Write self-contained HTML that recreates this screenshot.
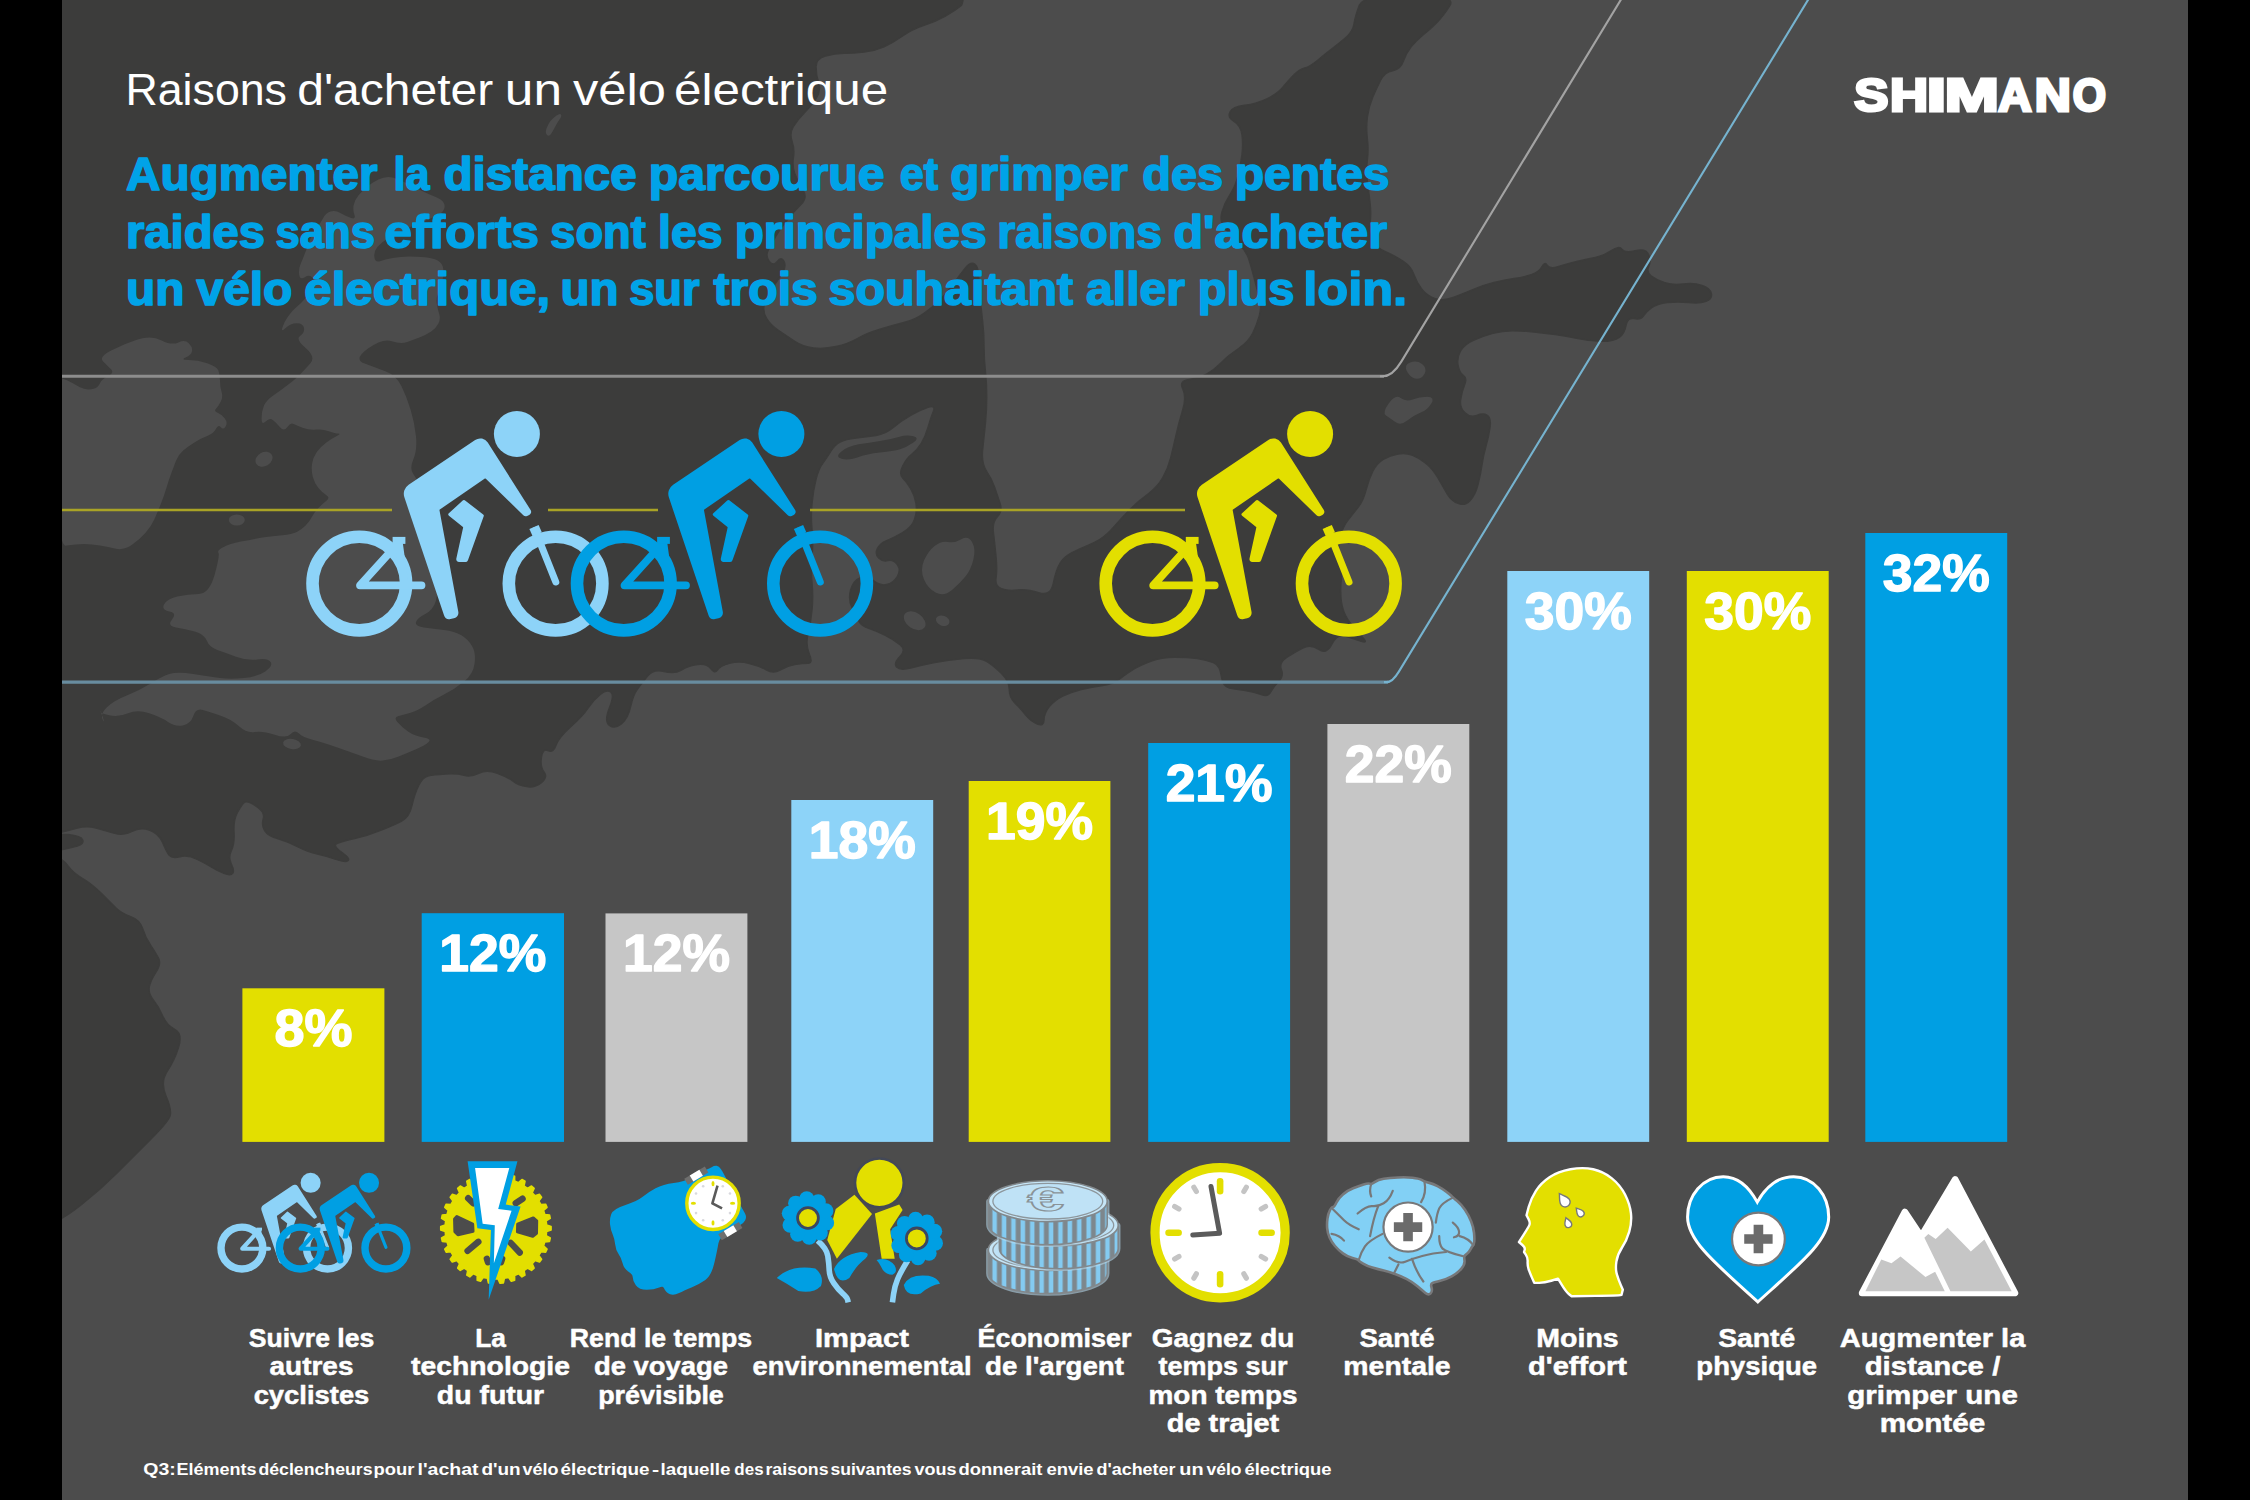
<!DOCTYPE html>
<html lang="fr"><head><meta charset="utf-8"><title>Raisons d'acheter un vélo électrique</title>
<style>html,body{margin:0;padding:0;background:#000;}body{width:2250px;height:1500px;overflow:hidden;}svg{display:block;}text{white-space:pre;}</style></head><body>
<svg width="2250" height="1500" viewBox="0 0 2250 1500">
<defs><clipPath id="panel"><rect x="62" y="0" width="2126" height="1500"/></clipPath></defs>
<rect x="0" y="0" width="2250" height="1500" fill="#000"/>
<rect x="62" y="0" width="2126" height="1500" fill="#4c4c4c"/>
<g clip-path="url(#panel)" stroke-linejoin="round">
<path d="M-400.0,250.0 Q-400,-400 284.0,-400.0 Q968,-400 968.0,-200.0 Q968,0 961.4,5.3 Q954.7,10.7 945.4,16.0 Q936,21.3 924.0,25.3 Q912,29.3 902.6,36.0 Q893.3,42.7 884.0,46.7 Q874.7,50.7 864.0,52.0 Q853.3,53.3 844.0,53.3 Q834.7,53.3 825.4,56.0 Q816,58.7 816.0,66.7 Q816,74.7 818.6,82.7 Q821.3,90.7 816.0,98.7 Q810.7,106.7 804.0,113.3 Q797.3,120 793.3,126.7 Q789.3,133.3 792.0,141.3 Q794.7,149.3 793.4,157.3 Q792,165.3 794.6,173.3 Q797.3,181.3 802.6,189.3 Q808,197.3 801.4,204.0 Q794.7,210.7 788.0,218.7 Q781.3,226.7 776.0,236.0 Q770.7,245.3 768.0,250.7 Q765.3,256 769.3,261.4 Q773.3,266.7 777.3,261.4 Q781.3,256 784.0,261.4 Q786.7,266.7 781.4,274.7 Q776,282.7 770.6,290.7 Q765.3,298.7 764.0,305.4 Q762.7,312 766.7,318.6 Q770.7,325.3 778.7,330.6 Q786.7,336 794.7,341.4 Q802.7,346.7 813.4,348.0 Q824,349.3 836.0,346.6 Q848,344 857.4,338.6 Q866.7,333.3 880.0,329.3 Q893.3,325.3 904.0,322.6 Q914.7,320 924.0,313.4 Q933.3,306.7 940.0,300.0 Q946.7,293.3 953.4,284.0 Q960,274.7 965.4,268.0 Q970.7,261.3 974.7,264.0 Q978.7,266.7 978.7,277.4 Q978.7,288 980.0,298.6 Q981.3,309.3 982.6,321.3 Q984,333.3 984.0,346.6 Q984,360 985.4,371.6 Q986.7,383.3 986.7,396.6 Q986.7,410 985.4,423.4 Q984,436.7 982.6,450.0 Q981.3,463.3 986.6,471.3 Q992,479.3 994.6,487.3 Q997.3,495.3 1000.0,503.3 Q1002.7,511.3 997.4,516.6 Q992,522 993.4,532.6 Q994.7,543.3 996.0,556.6 Q997.3,570 996.0,578.0 Q994.7,586 1001.4,588.6 Q1008,591.3 1017.4,590.0 Q1026.7,588.7 1038.7,592.7 Q1050.7,596.7 1053.3,583.4 Q1056,570 1060.0,563.4 Q1064,556.7 1072.0,552.7 Q1080,548.7 1086.7,546.0 Q1093.3,543.3 1100.0,539.3 Q1106.7,535.3 1114.7,526.0 Q1122.7,516.7 1130.7,508.7 Q1138.7,500.7 1148.0,494.0 Q1157.3,487.3 1162.7,478.0 Q1168,468.7 1170.7,458.0 Q1173.3,447.3 1176.0,435.3 Q1178.7,423.3 1182.7,410.0 Q1186.7,396.7 1182.7,388.7 Q1178.7,380.7 1189.3,379.4 Q1200,378 1207.0,374.0 Q1214,370 1219.3,364.6 Q1224.7,359.3 1227.3,357.0 Q1230,354.7 1239.3,348.0 Q1248.7,341.3 1252.7,333.3 Q1256.7,325.3 1259.3,316.0 Q1262,306.7 1259.3,297.4 Q1256.7,288 1254.0,277.4 Q1251.3,266.7 1248.7,258.7 Q1246,250.7 1238.0,242.7 Q1230,234.7 1224.7,228.0 Q1219.3,221.3 1222.0,212.0 Q1224.7,202.7 1230.0,194.7 Q1235.3,186.7 1238.0,176.0 Q1240.7,165.3 1242.0,154.7 Q1243.3,144 1242.0,134.7 Q1240.7,125.3 1234.0,121.3 Q1227.3,117.3 1230.0,112.0 Q1232.7,106.7 1244.7,105.3 Q1256.7,104 1267.3,98.7 Q1278,93.3 1283.3,86.7 Q1288.7,80 1294.0,74.7 Q1299.3,69.3 1304.7,68.0 Q1310,66.7 1318.0,60.0 Q1326,53.3 1331.3,49.3 Q1336.7,45.3 1344.7,38.6 Q1352.7,32 1354.0,24.0 Q1355.3,16 1359.3,5.3 Q1363.3,-5.3 1410.0,-5.3 Q1456.7,-5.3 1450.0,5.3 Q1443.3,16 1436.7,22.6 Q1430,29.3 1423.3,34.6 Q1416.7,40 1411.3,46.6 Q1406,53.3 1403.3,61.3 Q1400.7,69.3 1392.7,70.7 Q1384.7,72 1380.7,80.0 Q1376.7,88 1372.7,97.3 Q1368.7,106.7 1367.3,117.3 Q1366,128 1367.3,138.7 Q1368.7,149.3 1367.3,160.0 Q1366,170.7 1367.3,181.3 Q1368.7,192 1370.0,202.7 Q1371.3,213.3 1370.0,224.0 Q1368.7,234.7 1372.7,241.3 Q1376.7,248 1386.0,252.0 Q1395.3,256 1403.3,261.4 Q1411.3,266.7 1414.0,274.7 Q1416.7,282.7 1422.0,289.4 Q1427.3,296 1435.3,298.6 Q1443.3,301.3 1454.0,297.3 Q1464.7,293.3 1474.0,289.3 Q1483.3,285.3 1494.0,282.6 Q1504.7,280 1514.0,278.6 Q1523.3,277.3 1531.3,274.6 Q1539.3,272 1542.0,266.6 Q1544.7,261.3 1547.3,265.3 Q1550,269.3 1558.0,266.6 Q1566,264 1576.7,261.4 Q1587.3,258.7 1595.3,257.4 Q1603.3,256 1611.3,250.7 Q1619.3,245.3 1622.0,249.3 Q1624.7,253.3 1635.3,250.7 Q1646,248 1648.7,254.7 Q1651.3,261.3 1648.7,266.6 Q1646,272 1651.3,276.0 Q1656.7,280 1664.7,282.6 Q1672.7,285.3 1683.3,284.0 Q1694,282.7 1702.0,285.4 Q1710,288 1711.3,293.4 Q1712.7,298.7 1706.0,301.4 Q1699.3,304 1688.7,302.6 Q1678,301.3 1667.3,302.6 Q1656.7,304 1651.3,308.0 Q1646,312 1643.3,316.0 Q1640.7,320 1634.0,318.6 Q1627.3,317.3 1626.0,325.3 Q1624.7,333.3 1619.3,337.3 Q1614,341.3 1602.0,341.3 Q1590,341.3 1578.0,338.6 Q1566,336 1555.3,334.6 Q1544.7,333.3 1534.0,332.0 Q1523.3,330.7 1512.7,330.7 Q1502,330.7 1492.7,333.4 Q1483.3,336 1474.0,340.0 Q1464.7,344 1460.7,350.6 Q1456.7,357.3 1458.0,365.0 Q1459.3,372.7 1463.3,375.4 Q1467.3,378 1464.7,384.6 Q1462,391.3 1460.7,399.3 Q1459.3,407.3 1464.7,412.6 Q1470,418 1476.7,415.4 Q1483.3,412.7 1487.3,415.4 Q1491.3,418 1490.0,427.4 Q1488.7,436.7 1486.0,446.0 Q1483.3,455.3 1482.0,464.6 Q1480.7,474 1478.0,484.6 Q1475.3,495.3 1470.0,500.6 Q1464.7,506 1458.0,503.4 Q1451.3,500.7 1447.3,494.0 Q1443.3,487.3 1438.0,478.0 Q1432.7,468.7 1426.0,463.4 Q1419.3,458 1412.7,455.4 Q1406,452.7 1398.0,454.0 Q1390,455.3 1383.3,459.3 Q1376.7,463.3 1372.7,471.3 Q1368.7,479.3 1366.0,490.0 Q1363.3,500.7 1358.3,507.0 Q1353.3,513.3 1348.0,520.0 Q1342.7,526.7 1340.0,537.4 Q1337.3,548 1340.0,557.4 Q1342.7,566.7 1341.3,578.7 Q1340,590.7 1341.3,601.4 Q1342.7,612 1348.0,620.0 Q1353.3,628 1361.3,636.0 Q1369.3,644 1361.3,641.4 Q1353.3,638.7 1345.3,636.0 Q1337.3,633.3 1332.0,644.0 Q1326.7,654.7 1318.7,649.4 Q1310.7,644 1302.7,648.0 Q1294.7,652 1286.7,657.4 Q1278.7,662.7 1281.3,669.4 Q1284,676 1278.7,681.4 Q1273.3,686.7 1270.7,692.0 Q1268,697.3 1261.3,694.6 Q1254.7,692 1245.3,690.6 Q1236,689.3 1229.3,688.0 Q1222.7,686.7 1221.3,676.0 Q1220,665.3 1213.3,662.6 Q1206.7,660 1197.3,658.6 Q1188,657.3 1174.7,657.3 Q1161.3,657.3 1150.7,661.3 Q1140,665.3 1133.3,669.3 Q1126.7,673.3 1120.0,678.6 Q1113.3,684 1102.7,685.4 Q1092,686.7 1081.3,689.4 Q1070.7,692 1062.7,696.0 Q1054.7,700 1049.3,706.6 Q1044,713.3 1044.0,720.0 Q1044,726.7 1037.3,724.0 Q1030.7,721.3 1025.3,714.6 Q1020,708 1014.6,702.6 Q1009.3,697.3 1009.3,689.3 Q1009.3,681.3 1001.3,673.3 Q993.3,665.3 986.6,661.3 Q980,657.3 964.0,658.6 Q948,660 934.6,662.6 Q921.3,665.3 910.6,668.0 Q900,670.7 896.6,667.0 Q893.3,663.3 900.0,656.6 Q906.7,650 900.0,644.6 Q893.3,639.3 885.3,635.3 Q877.3,631.3 869.3,628.6 Q861.3,626 858.6,620.6 Q856,615.3 852.0,607.3 Q848,599.3 850.6,590.0 Q853.3,580.7 860.0,578.0 Q866.7,575.3 873.4,580.6 Q880,586 886.6,584.6 Q893.3,583.3 897.3,576.6 Q901.3,570 897.3,564.6 Q893.3,559.3 888.0,560.6 Q882.7,562 878.7,558.0 Q874.7,554 877.4,548.6 Q880,543.3 886.6,540.6 Q893.3,538 902.6,532.6 Q912,527.3 914.6,519.3 Q917.3,511.3 916.0,503.3 Q914.7,495.3 910.7,488.6 Q906.7,482 902.7,478.0 Q898.7,474 902.7,466.0 Q906.7,458 912.0,454.0 Q917.3,450 921.3,443.4 Q925.3,436.7 928.0,427.4 Q930.7,418 933.4,411.4 Q936,404.7 928.0,407.4 Q920,410 910.6,415.4 Q901.3,420.7 893.3,427.4 Q885.3,434 876.0,435.4 Q866.7,436.7 856.0,438.0 Q845.3,439.3 840.0,442.0 Q834.7,444.7 830.7,451.4 Q826.7,458 822.7,463.4 Q818.7,468.7 816.0,479.4 Q813.3,490 812.0,503.4 Q810.7,516.7 812.0,530.0 Q813.3,543.3 812.0,556.6 Q810.7,570 812.0,583.4 Q813.3,596.7 812.0,610.0 Q810.7,623.3 808.0,634.0 Q805.3,644.7 809.3,654.0 Q813.3,663.3 808.0,663.3 Q802.7,663.3 794.7,664.6 Q786.7,666 780.0,670.0 Q773.3,674 766.6,670.0 Q760,666 749.4,663.4 Q738.7,660.7 729.4,663.4 Q720,666 717.4,670.0 Q714.7,674 710.7,668.6 Q706.7,663.3 697.4,664.6 Q688,666 681.4,670.0 Q674.7,674 664.0,671.4 Q653.3,668.7 647.3,676.4 Q641.3,684 637.3,689.4 Q633.3,694.7 630.6,706.7 Q628,718.7 621.4,724.0 Q614.7,729.3 609.4,725.3 Q604,721.3 609.4,708.0 Q614.7,694.7 610.7,692.0 Q606.7,689.3 600.0,694.6 Q593.3,700 588.0,708.0 Q582.7,716 570.7,726.6 Q558.7,737.3 556.0,745.3 Q553.3,753.3 548.0,750.6 Q542.7,748 541.4,757.4 Q540,766.7 544.0,772.0 Q548,777.3 541.4,782.6 Q534.7,788 526.7,786.6 Q518.7,785.3 513.4,781.3 Q508,777.3 497.4,773.3 Q486.7,769.3 478.7,773.3 Q470.7,777.3 464.0,775.3 Q457.3,773.3 445.3,774.0 Q433.3,774.7 428.0,776.0 Q422.7,777.3 418.7,785.3 Q414.7,793.3 412.0,805.3 Q409.3,817.3 401.3,821.3 Q393.3,825.3 380.0,830.6 Q366.7,836 354.7,838.6 Q342.7,841.3 337.4,843.3 Q332,845.3 341.4,852.0 Q350.7,858.7 348.0,860.7 Q345.3,862.7 336.0,859.4 Q326.7,856 317.4,854.0 Q308,852 297.4,846.6 Q286.7,841.3 277.4,838.6 Q268,836 264.6,830.6 Q261.3,825.3 263.3,818.6 Q265.3,812 256.0,806.0 Q246.7,800 244.0,802.6 Q241.3,805.3 237.3,812.6 Q233.3,820 234.0,832.0 Q234.7,844 231.3,850.6 Q228,857.3 231.3,864.0 Q234.7,870.7 232.7,873.4 Q230.7,876 224.0,873.4 Q217.3,870.7 212.0,867.4 Q206.7,864 197.3,859.4 Q188,854.7 180.0,856.7 Q172,858.7 169.3,855.4 Q166.7,852 162.7,842.6 Q158.7,833.3 149.3,830.0 Q140,826.7 132.0,831.4 Q124,836 114.7,833.4 Q105.3,830.7 96.0,828.0 Q86.7,825.3 77.3,828.0 Q68,830.7 61.4,832.0 Q54.7,833.3 -172.7,866.6 Q-400,900 -400.0,250.0Z" fill="#3c3c3b" stroke="#3c3c3b" stroke-width="1.5"/>
<path d="M68.0,834.6 Q81.3,836 82.7,840.0 Q84,844 77.3,846.0 Q70.7,848 62.7,849.4 Q54.7,850.7 54.7,842.0 Q54.7,833.3 68.0,834.6Z" fill="#3c3c3b" stroke="#3c3c3b" stroke-width="1.5"/>
<path d="M58.7,858.7 Q62.7,858.7 68.0,866.0 Q73.3,873.3 82.7,878.6 Q92,884 101.3,893.4 Q110.7,902.7 116.0,908.0 Q121.3,913.3 130.7,916.6 Q140,920 142.7,928.6 Q145.3,937.3 150.7,945.3 Q156,953.3 158.7,958.6 Q161.3,964 156.0,972.0 Q150.7,980 149.3,986.6 Q148,993.3 153.3,1000.0 Q158.7,1006.7 162.7,1016.0 Q166.7,1025.3 174.7,1029.3 Q182.7,1033.3 178.7,1046.7 Q174.7,1060 167.3,1071.0 Q160,1082 166.0,1096.0 Q172,1110 170.0,1116.0 Q168,1122 150.0,1140.0 Q132,1158 116.0,1174.0 Q100,1190 81.0,1205.0 Q62,1220 56.0,1220.0 Q50,1220 52.4,1039.3 Q54.7,858.7 58.7,858.7Z" fill="#3c3c3b" stroke="#3c3c3b" stroke-width="1.5"/>
<path d="M61.6,378.4 Q66.4,379.2 72.8,383.2 Q79.2,387.2 84.0,388.8 Q88.8,390.4 93.6,388.8 Q98.4,387.2 100.0,383.2 Q101.6,379.2 108.0,376.0 Q114.4,372.8 111.2,369.6 Q108,366.4 103.2,361.6 Q98.4,356.8 111.2,350.4 Q124,344 137.6,339.6 Q151.2,335.2 161.6,340.4 Q172,345.6 178.4,342.4 Q184.8,339.2 188.8,343.2 Q192.8,347.2 192.0,351.2 Q191.2,355.2 185.6,357.6 Q180,360 188.8,360.0 Q197.6,360 207.2,363.2 Q216.8,366.4 218.4,370.4 Q220,374.4 220.0,380.8 Q220,387.2 221.6,392.0 Q223.2,396.8 220.8,401.6 Q218.4,406.4 216.0,408.8 Q213.6,411.2 217.6,412.8 Q221.6,414.4 224.8,418.4 Q228,422.4 225.6,426.4 Q223.2,430.4 220.8,427.2 Q218.4,424 216.0,428.8 Q213.6,433.6 207.2,436.0 Q200.8,438.4 194.4,442.4 Q188,446.4 183.2,450.4 Q178.4,454.4 176.0,460.8 Q173.6,467.2 171.2,473.6 Q168.8,480 166.4,488.0 Q164,496 160.8,504.0 Q157.6,512 154.4,519.2 Q151.2,526.4 145.6,532.8 Q140,539.2 132.0,544.8 Q124,550.4 116.0,548.8 Q108,547.2 100.0,545.6 Q92,544 84.0,544.0 Q76,544 66.4,545.6 Q56.8,547.2 56.8,462.4 Q56.8,377.6 61.6,378.4Z" fill="#4c4c4c"/>
<path d="M390.4,177.2 Q396,178 404.0,182.0 Q412,186 420.0,190.0 Q428,194 434.4,196.4 Q440.8,198.8 443.2,202.0 Q445.6,205.2 444.0,209.2 Q442.4,213.2 435.2,216.4 Q428,219.6 420.0,222.8 Q412,226 404.0,230.0 Q396,234 388.8,238.0 Q381.6,242 377.6,246.8 Q373.6,251.6 374.4,257.2 Q375.2,262.8 380.0,261.2 Q384.8,259.6 392.8,258.0 Q400.8,256.4 408.8,256.4 Q416.8,256.4 424.8,257.2 Q432.8,258 437.6,260.4 Q442.4,262.8 443.2,268.4 Q444,274 442.4,280.4 Q440.8,286.8 438.4,292.4 Q436,298 436.8,303.6 Q437.6,309.2 439.2,314.0 Q440.8,318.8 438.4,323.6 Q436,328.4 431.2,331.6 Q426.4,334.8 420.0,337.2 Q413.6,339.6 407.2,342.0 Q400.8,344.4 391.8,341.2 Q382.7,338 368.0,348.6 Q353.3,359.3 364.0,363.3 Q374.7,367.3 385.4,371.3 Q396,375.3 401.4,386.0 Q406.7,396.7 410.7,410.0 Q414.7,423.3 416.0,436.6 Q417.3,450 413.3,459.4 Q409.3,468.7 413.3,474.0 Q417.3,479.3 421.3,491.3 Q425.3,503.3 428.0,518.0 Q430.7,532.7 433.4,548.7 Q436,564.7 437.4,578.0 Q438.7,591.3 436.0,600.6 Q433.3,610 425.3,614.0 Q417.3,618 416.0,622.0 Q414.7,626 424.0,627.4 Q433.3,628.7 444.0,630.0 Q454.7,631.3 461.4,635.3 Q468,639.3 472.0,646.0 Q476,652.7 474.6,663.4 Q473.3,674 464.0,681.6 Q454.7,689.3 444.0,694.6 Q433.3,700 425.3,705.4 Q417.3,710.7 410.6,712.7 Q404,714.7 398.6,716.0 Q393.3,717.3 397.3,722.0 Q401.3,726.7 408.0,731.4 Q414.7,736 423.4,737.4 Q432,738.7 428.6,742.0 Q425.3,745.3 416.0,749.3 Q406.7,753.3 398.7,756.6 Q390.7,760 382.7,760.6 Q374.7,761.3 362.7,756.6 Q350.7,752 337.4,747.4 Q324,742.7 313.4,740.0 Q302.7,737.3 298.7,733.3 Q294.7,729.3 290.7,734.0 Q286.7,738.7 274.7,734.7 Q262.7,730.7 254.7,732.0 Q246.7,733.3 238.7,726.0 Q230.7,718.7 220.0,715.4 Q209.3,712 202.7,710.0 Q196,708 193.3,716.0 Q190.7,724 182.7,725.4 Q174.7,726.7 168.0,722.0 Q161.3,717.3 149.3,713.3 Q137.3,709.3 128.0,713.3 Q118.7,717.3 109.3,715.3 Q100,713.3 100.0,711.3 Q100,709.3 102.7,717.0 Q105.3,724.7 102.7,719.4 Q100,714 106.7,707.4 Q113.3,700.7 126.7,695.4 Q140,690 150.7,683.4 Q161.3,676.7 169.3,674.0 Q177.3,671.3 193.3,674.0 Q209.3,676.7 220.0,678.0 Q230.7,679.3 244.0,678.0 Q257.3,676.7 265.3,671.4 Q273.3,666 270.6,662.0 Q268,658 257.4,659.4 Q246.7,660.7 236.0,656.7 Q225.3,652.7 217.3,650.0 Q209.3,647.3 206.7,640.6 Q204,634 194.7,631.4 Q185.3,628.7 176.0,627.4 Q166.7,626 172.0,619.4 Q177.3,612.7 169.3,611.4 Q161.3,610 164.0,604.6 Q166.7,599.3 177.3,596.6 Q188,594 198.7,594.0 Q209.3,594 214.7,574.6 Q220,555.2 218.4,552.8 Q216.8,550.4 223.2,547.2 Q229.6,544 240.8,541.6 Q252,539.2 262.4,537.6 Q272.8,536 282.4,535.2 Q292,534.4 296.8,532.0 Q301.6,529.6 305.6,525.6 Q309.6,521.6 312.0,516.8 Q314.4,512 318.4,508.0 Q322.4,504 326.4,500.8 Q330.4,497.6 326.4,495.2 Q322.4,492.8 318.4,488.0 Q314.4,483.2 312.8,476.8 Q311.2,470.4 312.0,464.0 Q312.8,457.6 316.8,452.0 Q320.8,446.4 326.4,442.4 Q332,438.4 336.8,436.0 Q341.6,433.6 338.4,433.6 Q335.2,433.6 328.8,431.2 Q322.4,428.8 316.0,429.6 Q309.6,430.4 303.2,428.0 Q296.8,425.6 293.6,424.0 Q290.4,422.4 287.2,427.2 Q284,432 280.0,427.2 Q276,422.4 272.8,420.0 Q269.6,417.6 265.6,421.6 Q261.6,425.6 261.6,418.4 Q261.6,411.2 264.0,405.6 Q266.4,400 273.6,395.2 Q280.8,390.4 288.0,384.8 Q295.2,379.2 300.0,374.4 Q304.8,369.6 310.4,363.2 Q316,356.8 305.6,348.0 Q295.2,339.2 300.0,336.0 Q304.8,332.8 304.0,328.0 Q303.2,323.2 296.8,323.2 Q290.4,323.2 285.6,328.0 Q280.8,332.8 282.4,327.4 Q284,322 288.0,316.4 Q292,310.8 296.8,306.8 Q301.6,302.8 305.6,298.0 Q309.6,293.2 312.8,287.6 Q316,282 312.8,278.0 Q309.6,274 304.8,277.2 Q300,280.4 299.2,274.8 Q298.4,269.2 300.8,263.6 Q303.2,258 305.6,251.6 Q308,245.2 310.4,238.8 Q312.8,232.4 316.8,227.6 Q320.8,222.8 323.2,218.0 Q325.6,213.2 330.4,211.6 Q335.2,210 340.8,213.2 Q346.4,216.4 351.2,218.0 Q356,219.6 354.4,214.8 Q352.8,210 353.6,205.2 Q354.4,200.4 358.4,195.6 Q362.4,190.8 367.2,186.8 Q372,182.8 378.4,179.6 Q384.8,176.4 390.4,177.2Z" fill="#4c4c4c"/>
<ellipse cx="264.0" cy="459.2" rx="9" ry="7" transform="rotate(-30 264.0 459.2)" fill="#4c4c4c"/>
<ellipse cx="236.8" cy="520.0" rx="8" ry="5.5" transform="rotate(0 236.8 520.0)" fill="#4c4c4c"/>
<ellipse cx="292.0" cy="744.0" rx="9" ry="5" transform="rotate(10 292.0 744.0)" fill="#4c4c4c"/>
<path d="M546.5,128.5 Q548,124 550.5,121.0 Q553,118 556.5,115.5 Q560,113 561.0,114.5 Q562,116 559.5,119.5 Q557,123 555.0,127.0 Q553,131 551.0,134.0 Q549,137 547.0,135.0 Q545,133 546.5,128.5Z" fill="#4c4c4c"/>
<path d="M934.6,546.0 Q941.3,540.7 948.0,542.0 Q954.7,543.3 961.4,539.3 Q968,535.3 972.0,542.0 Q976,548.7 973.4,559.4 Q970.7,570 965.4,576.6 Q960,583.3 952.0,590.0 Q944,596.7 936.0,592.7 Q928,588.7 924.0,579.4 Q920,570 924.0,560.6 Q928,551.3 934.6,546.0Z" fill="#4c4c4c"/>
<ellipse cx="914.7" cy="620.7" rx="12" ry="8" transform="rotate(35 914.7 620.7)" fill="#4c4c4c"/>
<ellipse cx="942.7" cy="620.7" rx="7" ry="5" transform="rotate(20 942.7 620.7)" fill="#4c4c4c"/>
<path d="M1388.7,403.4 Q1395.3,394 1400.7,398.0 Q1406,402 1412.7,399.4 Q1419.3,396.7 1427.3,396.7 Q1435.3,396.7 1431.3,403.4 Q1427.3,410 1420.7,412.6 Q1414,415.3 1407.3,420.6 Q1400.7,426 1395.3,422.0 Q1390,418 1386.0,415.4 Q1382,412.7 1388.7,403.4Z" fill="#4c4c4c"/>
<path d="M1410.0,362.6 Q1416.7,360 1422.0,364.0 Q1427.3,368 1424.7,373.4 Q1422,378.7 1416.7,378.7 Q1411.3,378.7 1407.3,372.0 Q1403.3,365.3 1410.0,362.6Z" fill="#4c4c4c"/>
<path d="M841.4,451.4 Q848,446 858.6,444.2 Q869.3,442.5 880.0,440.9 Q890.7,439.3 898.7,436.9 Q906.7,434.5 913.4,436.2 Q920,438 913.4,442.6 Q906.7,447.3 900.0,449.3 Q893.3,451.3 880.0,452.6 Q866.7,454 857.4,457.4 Q848,460.7 841.4,458.7 Q834.7,456.7 841.4,451.4Z" fill="#3c3c3b"/>
</g>
<path d="M62,376.3 H1384" fill="none" stroke="#8d8d8d" stroke-width="3"/>
<path d="M1380,376.3 H1382.7 Q1392.4,376.3 1401.3,361.6 L1630.4,-16" fill="none" stroke="#a3a3a3" stroke-width="2.1"/>
<path d="M62,682.1 H1388" fill="none" stroke="#688c9f" stroke-width="3.2"/>
<path d="M1384,682.1 H1386.9 Q1392.5,682.1 1398.7,671.9 L1817.7,-16" fill="none" stroke="#76b3cf" stroke-width="2.1"/>
<line x1="62" y1="510" x2="392" y2="510" stroke="#a9a326" stroke-width="2.4"/>
<line x1="548" y1="510" x2="658" y2="510" stroke="#a9a326" stroke-width="2.4"/>
<line x1="810" y1="510" x2="1185" y2="510" stroke="#a9a326" stroke-width="2.4"/>
<g transform="translate(290,390) scale(1)" fill="#8dd3f8" stroke="#8dd3f8" stroke-linejoin="round" stroke-linecap="round">
<circle cx="226.9" cy="44.1" r="23" stroke="none"/>
<circle cx="69.3" cy="193.6" r="46.8" fill="none" stroke-width="12.6"/>
<circle cx="265.6" cy="193.6" r="46.8" fill="none" stroke-width="12.6"/>
<path d="M185.14,49.96 A9.00,9.00 0 0 1 197.76,52.60 L240.62,120.03 A3.40,3.40 0 0 1 239.20,124.94 L237.13,125.90 A3.40,3.40 0 0 1 233.32,125.25 L195.87,88.66 A0.80,0.80 0 0 0 194.86,88.57 L149.83,119.41 A0.80,0.80 0 0 0 149.49,120.21 L168.31,221.83 A5.60,5.60 0 0 1 163.96,228.33 L160.48,229.07 A5.60,5.60 0 0 1 154.01,225.37 L114.37,107.35 A11.00,11.00 0 0 1 118.65,94.72Z" stroke="none"/>
<path d="M172.71,110.42 A1.60,1.60 0 0 1 174.77,110.32 L193.17,124.39 A1.60,1.60 0 0 1 193.71,126.20 L177.96,170.14 A2.80,2.80 0 0 1 175.33,172.00 L169.08,172.00 A2.80,2.80 0 0 1 166.34,168.60 L173.13,137.50 A0.50,0.50 0 0 0 172.96,137.01 L158.94,125.76 A1.60,1.60 0 0 1 158.85,123.34Z" stroke="none"/>
<path d="M131.5,195.3 H70 L108.8,152.5 L114.6,195" fill="none" stroke-width="7.8"/>
<path d="M102.6,150.4 H115.4" fill="none" stroke-width="7" stroke-linecap="butt"/>
<path d="M245.2,140.4 L265.8,192" fill="none" stroke-width="7"/>
<path d="M241,142.6 L250.2,138.6" fill="none" stroke-width="8" stroke-linecap="butt"/>
</g>
<g transform="translate(554.5,390) scale(1)" fill="#009fe3" stroke="#009fe3" stroke-linejoin="round" stroke-linecap="round">
<circle cx="226.9" cy="44.1" r="23" stroke="none"/>
<circle cx="69.3" cy="193.6" r="46.8" fill="none" stroke-width="12.6"/>
<circle cx="265.6" cy="193.6" r="46.8" fill="none" stroke-width="12.6"/>
<path d="M185.14,49.96 A9.00,9.00 0 0 1 197.76,52.60 L240.62,120.03 A3.40,3.40 0 0 1 239.20,124.94 L237.13,125.90 A3.40,3.40 0 0 1 233.32,125.25 L195.87,88.66 A0.80,0.80 0 0 0 194.86,88.57 L149.83,119.41 A0.80,0.80 0 0 0 149.49,120.21 L168.31,221.83 A5.60,5.60 0 0 1 163.96,228.33 L160.48,229.07 A5.60,5.60 0 0 1 154.01,225.37 L114.37,107.35 A11.00,11.00 0 0 1 118.65,94.72Z" stroke="none"/>
<path d="M172.71,110.42 A1.60,1.60 0 0 1 174.77,110.32 L193.17,124.39 A1.60,1.60 0 0 1 193.71,126.20 L177.96,170.14 A2.80,2.80 0 0 1 175.33,172.00 L169.08,172.00 A2.80,2.80 0 0 1 166.34,168.60 L173.13,137.50 A0.50,0.50 0 0 0 172.96,137.01 L158.94,125.76 A1.60,1.60 0 0 1 158.85,123.34Z" stroke="none"/>
<path d="M131.5,195.3 H70 L108.8,152.5 L114.6,195" fill="none" stroke-width="7.8"/>
<path d="M102.6,150.4 H115.4" fill="none" stroke-width="7" stroke-linecap="butt"/>
<path d="M245.2,140.4 L265.8,192" fill="none" stroke-width="7"/>
<path d="M241,142.6 L250.2,138.6" fill="none" stroke-width="8" stroke-linecap="butt"/>
</g>
<g transform="translate(1083.2,390) scale(1)" fill="#e3df00" stroke="#e3df00" stroke-linejoin="round" stroke-linecap="round">
<circle cx="226.9" cy="44.1" r="23" stroke="none"/>
<circle cx="69.3" cy="193.6" r="46.8" fill="none" stroke-width="12.6"/>
<circle cx="265.6" cy="193.6" r="46.8" fill="none" stroke-width="12.6"/>
<path d="M185.14,49.96 A9.00,9.00 0 0 1 197.76,52.60 L240.62,120.03 A3.40,3.40 0 0 1 239.20,124.94 L237.13,125.90 A3.40,3.40 0 0 1 233.32,125.25 L195.87,88.66 A0.80,0.80 0 0 0 194.86,88.57 L149.83,119.41 A0.80,0.80 0 0 0 149.49,120.21 L168.31,221.83 A5.60,5.60 0 0 1 163.96,228.33 L160.48,229.07 A5.60,5.60 0 0 1 154.01,225.37 L114.37,107.35 A11.00,11.00 0 0 1 118.65,94.72Z" stroke="none"/>
<path d="M172.71,110.42 A1.60,1.60 0 0 1 174.77,110.32 L193.17,124.39 A1.60,1.60 0 0 1 193.71,126.20 L177.96,170.14 A2.80,2.80 0 0 1 175.33,172.00 L169.08,172.00 A2.80,2.80 0 0 1 166.34,168.60 L173.13,137.50 A0.50,0.50 0 0 0 172.96,137.01 L158.94,125.76 A1.60,1.60 0 0 1 158.85,123.34Z" stroke="none"/>
<path d="M131.5,195.3 H70 L108.8,152.5 L114.6,195" fill="none" stroke-width="7.8"/>
<path d="M102.6,150.4 H115.4" fill="none" stroke-width="7" stroke-linecap="butt"/>
<path d="M245.2,140.4 L265.8,192" fill="none" stroke-width="7"/>
<path d="M241,142.6 L250.2,138.6" fill="none" stroke-width="8" stroke-linecap="butt"/>
</g>
<rect x="242.4" y="988.3" width="141.99999999999997" height="153.60000000000014" fill="#e3df00"/>
<rect x="421.7" y="913.2" width="142.3" height="228.70000000000005" fill="#009fe3"/>
<rect x="605.5" y="913.4" width="141.89999999999998" height="228.5000000000001" fill="#c6c6c6"/>
<rect x="791.3" y="800" width="141.9000000000001" height="341.9000000000001" fill="#8dd3f8"/>
<rect x="968.7" y="781" width="141.70000000000005" height="360.9000000000001" fill="#e3df00"/>
<rect x="1148.2" y="743" width="141.89999999999986" height="398.9000000000001" fill="#009fe3"/>
<rect x="1327.4" y="724" width="141.89999999999986" height="417.9000000000001" fill="#c6c6c6"/>
<rect x="1507.3" y="571" width="141.9000000000001" height="570.9000000000001" fill="#8dd3f8"/>
<rect x="1686.8" y="571" width="141.9000000000001" height="570.9000000000001" fill="#e3df00"/>
<rect x="1865.3" y="533" width="141.9000000000001" height="608.9000000000001" fill="#009fe3"/>
<g font-family="'Liberation Sans', sans-serif" font-weight="700" font-size="51" fill="#fff" text-anchor="middle" stroke="#fff" stroke-width="1.4" stroke-linejoin="round">
<text x="313.4" y="1046.1" textLength="78" lengthAdjust="spacingAndGlyphs">8%</text>
<text x="492.85" y="971" textLength="107" lengthAdjust="spacingAndGlyphs">12%</text>
<text x="676.45" y="971.2" textLength="107" lengthAdjust="spacingAndGlyphs">12%</text>
<text x="862.25" y="857.8" textLength="107" lengthAdjust="spacingAndGlyphs">18%</text>
<text x="1039.55" y="838.8" textLength="107" lengthAdjust="spacingAndGlyphs">19%</text>
<text x="1219.15" y="800.8" textLength="107" lengthAdjust="spacingAndGlyphs">21%</text>
<text x="1398.35" y="781.8" textLength="107" lengthAdjust="spacingAndGlyphs">22%</text>
<text x="1578.25" y="628.8" textLength="107" lengthAdjust="spacingAndGlyphs">30%</text>
<text x="1757.75" y="628.8" textLength="107" lengthAdjust="spacingAndGlyphs">30%</text>
<text x="1936.25" y="590.8" textLength="107" lengthAdjust="spacingAndGlyphs">32%</text>
</g>
<g transform="translate(211.7,1163.6) scale(0.436)" fill="#8dd3f8" stroke="#8dd3f8" stroke-linejoin="round" stroke-linecap="round">
<circle cx="226.9" cy="44.1" r="23" stroke="none"/>
<circle cx="69.3" cy="193.6" r="48" fill="none" stroke-width="17"/>
<circle cx="265.6" cy="193.6" r="48" fill="none" stroke-width="17"/>
<path d="M185.14,49.96 A9.00,9.00 0 0 1 197.76,52.60 L240.62,120.03 A3.40,3.40 0 0 1 239.20,124.94 L237.13,125.90 A3.40,3.40 0 0 1 233.32,125.25 L195.87,88.66 A0.80,0.80 0 0 0 194.86,88.57 L149.83,119.41 A0.80,0.80 0 0 0 149.49,120.21 L168.31,221.83 A5.60,5.60 0 0 1 163.96,228.33 L160.48,229.07 A5.60,5.60 0 0 1 154.01,225.37 L114.37,107.35 A11.00,11.00 0 0 1 118.65,94.72Z" stroke="none"/>
<path d="M172.71,110.42 A1.60,1.60 0 0 1 174.77,110.32 L193.17,124.39 A1.60,1.60 0 0 1 193.71,126.20 L177.96,170.14 A2.80,2.80 0 0 1 175.33,172.00 L169.08,172.00 A2.80,2.80 0 0 1 166.34,168.60 L173.13,137.50 A0.50,0.50 0 0 0 172.96,137.01 L158.94,125.76 A1.60,1.60 0 0 1 158.85,123.34Z" stroke="none"/>
<path d="M131.5,195.3 H70 L108.8,152.5 L114.6,195" fill="none" stroke-width="9.5"/>
<path d="M102.6,150.4 H115.4" fill="none" stroke-width="7" stroke-linecap="butt"/>
<path d="M245.2,140.4 L265.8,192" fill="none" stroke-width="7"/>
<path d="M241,142.6 L250.2,138.6" fill="none" stroke-width="8" stroke-linecap="butt"/>
</g>
<g transform="translate(270.1,1163.6) scale(0.436)" fill="#009fe3" stroke="#009fe3" stroke-linejoin="round" stroke-linecap="round">
<circle cx="226.9" cy="44.1" r="23" stroke="none"/>
<circle cx="69.3" cy="193.6" r="48" fill="none" stroke-width="17"/>
<circle cx="265.6" cy="193.6" r="48" fill="none" stroke-width="17"/>
<path d="M185.14,49.96 A9.00,9.00 0 0 1 197.76,52.60 L240.62,120.03 A3.40,3.40 0 0 1 239.20,124.94 L237.13,125.90 A3.40,3.40 0 0 1 233.32,125.25 L195.87,88.66 A0.80,0.80 0 0 0 194.86,88.57 L149.83,119.41 A0.80,0.80 0 0 0 149.49,120.21 L168.31,221.83 A5.60,5.60 0 0 1 163.96,228.33 L160.48,229.07 A5.60,5.60 0 0 1 154.01,225.37 L114.37,107.35 A11.00,11.00 0 0 1 118.65,94.72Z" stroke="none"/>
<path d="M172.71,110.42 A1.60,1.60 0 0 1 174.77,110.32 L193.17,124.39 A1.60,1.60 0 0 1 193.71,126.20 L177.96,170.14 A2.80,2.80 0 0 1 175.33,172.00 L169.08,172.00 A2.80,2.80 0 0 1 166.34,168.60 L173.13,137.50 A0.50,0.50 0 0 0 172.96,137.01 L158.94,125.76 A1.60,1.60 0 0 1 158.85,123.34Z" stroke="none"/>
<path d="M131.5,195.3 H70 L108.8,152.5 L114.6,195" fill="none" stroke-width="9.5"/>
<path d="M102.6,150.4 H115.4" fill="none" stroke-width="7" stroke-linecap="butt"/>
<path d="M245.2,140.4 L265.8,192" fill="none" stroke-width="7"/>
<path d="M241,142.6 L250.2,138.6" fill="none" stroke-width="8" stroke-linecap="butt"/>
</g>
<path d="M546.6,1225.01 L551.07,1226.47 L551.07,1229.93 L546.6,1231.39 L546.16,1235.62 L550.23,1237.98 L549.51,1241.37 L544.83,1241.86 L543.51,1245.91 L547.01,1249.06 L545.6,1252.22 L540.92,1251.74 L538.79,1255.42 L541.55,1259.23 L539.52,1262.03 L535.04,1260.58 L532.2,1263.74 L534.11,1268.04 L531.53,1270.36 L527.45,1268.01 L524.01,1270.51 L524.99,1275.11 L521.98,1276.85 L518.49,1273.7 L514.6,1275.43 L514.6,1280.14 L511.3,1281.21 L508.53,1277.4 L504.37,1278.29 L503.39,1282.89 L499.94,1283.25 L498.03,1278.96 L493.77,1278.96 L491.86,1283.25 L488.41,1282.89 L487.43,1278.29 L483.27,1277.4 L480.5,1281.21 L477.2,1280.14 L477.2,1275.43 L473.31,1273.7 L469.82,1276.85 L466.81,1275.11 L467.79,1270.51 L464.35,1268.01 L460.27,1270.36 L457.69,1268.04 L459.6,1263.74 L456.76,1260.58 L452.28,1262.03 L450.25,1259.23 L453.01,1255.42 L450.88,1251.74 L446.2,1252.22 L444.79,1249.06 L448.29,1245.91 L446.97,1241.86 L442.29,1241.37 L441.57,1237.98 L445.64,1235.62 L445.2,1231.39 L440.73,1229.93 L440.73,1226.47 L445.2,1225.01 L445.64,1220.78 L441.57,1218.42 L442.29,1215.03 L446.97,1214.54 L448.29,1210.49 L444.79,1207.34 L446.2,1204.18 L450.88,1204.66 L453.01,1200.98 L450.25,1197.17 L452.28,1194.37 L456.76,1195.82 L459.6,1192.66 L457.69,1188.36 L460.27,1186.04 L464.35,1188.39 L467.79,1185.89 L466.81,1181.29 L469.82,1179.55 L473.31,1182.7 L477.2,1180.97 L477.2,1176.26 L480.5,1175.19 L483.27,1179 L487.43,1178.11 L488.41,1173.51 L491.86,1173.15 L493.77,1177.44 L498.03,1177.44 L499.94,1173.15 L503.39,1173.51 L504.37,1178.11 L508.53,1179 L511.3,1175.19 L514.6,1176.26 L514.6,1180.97 L518.49,1182.7 L521.98,1179.55 L524.99,1181.29 L524.01,1185.89 L527.45,1188.39 L531.53,1186.04 L534.11,1188.36 L532.2,1192.66 L535.04,1195.82 L539.52,1194.37 L541.55,1197.17 L538.79,1200.98 L540.92,1204.66 L545.6,1204.18 L547.01,1207.34 L543.51,1210.49 L544.83,1214.54 L549.51,1215.03 L550.23,1218.42 L546.16,1220.78Z" fill="#e3df00" stroke="#e3df00" stroke-width="1.6" stroke-linejoin="round"/>
<path d="M456.83,1216.63 L472.69,1224.22 L473.03,1231.36 L457.96,1234.76 L454.9,1231.59 L454.56,1219.12Z" fill="#4c4c4c" stroke="#4c4c4c" stroke-width="3" stroke-linejoin="round"/>
<path d="M533.31,1217.99 L517.68,1224.22 L517.45,1231.81 L532.75,1236.35 L536.49,1233.29 L536.71,1220.82Z" fill="#4c4c4c" stroke="#4c4c4c" stroke-width="3" stroke-linejoin="round"/>
<line x1="468.16" y1="1198.16" x2="473.26" y2="1203.26" stroke="#4c4c4c" stroke-width="6.4" stroke-linecap="round"/>
<line x1="467.59" y1="1250.85" x2="478.36" y2="1241.78" stroke="#4c4c4c" stroke-width="6.4" stroke-linecap="round"/>
<line x1="522.55" y1="1198.73" x2="515.75" y2="1203.26" stroke="#4c4c4c" stroke-width="6.4" stroke-linecap="round"/>
<line x1="510.65" y1="1242.92" x2="519.72" y2="1252.55" stroke="#4c4c4c" stroke-width="6.4" stroke-linecap="round"/>
<line x1="486.86" y1="1258.78" x2="487.99" y2="1262.18" stroke="#4c4c4c" stroke-width="6.4" stroke-linecap="round"/>
<line x1="502.15" y1="1258.78" x2="501.02" y2="1262.18" stroke="#4c4c4c" stroke-width="6.4" stroke-linecap="round"/>
<path d="M467.59,1161.33 L517.45,1161.33 L505.78,1204.62 L520.62,1206.43 L488.67,1299.8 L490.93,1230 L477.34,1228.19Z" fill="#009fe3"/>
<path d="M475.07,1167.9 L509.29,1167.9 L498.19,1208.92 L511.56,1210.74 L493.88,1263.31 L494.79,1225.24 L482.66,1223.65Z" fill="#fff"/>
<path d="M612.67,1214.62 Q614.37,1210.08 625.99,1206.39 Q637.61,1202.71 643.28,1198.18 Q648.94,1193.64 656.31,1189.68 Q663.68,1185.71 673.88,1184.58 Q684.08,1183.44 693.72,1178.06 Q703.35,1172.67 706.75,1171.26 Q710.15,1169.84 712.42,1168.42 Q714.69,1167 716.39,1167.28 Q718.09,1167.57 719.79,1170.12 Q721.49,1172.67 731.69,1191.94 Q741.89,1211.21 743.59,1214.05 Q745.29,1216.88 743.88,1219.43 Q742.46,1221.98 739.91,1223.39 Q737.36,1224.81 727.73,1230.48 Q718.09,1236.15 716.96,1242.95 Q715.82,1249.75 712.99,1262.22 Q710.15,1274.69 704.49,1278.65 Q698.82,1282.62 690.88,1286.02 Q682.95,1289.42 678.41,1291.69 Q673.88,1293.96 670.48,1292.83 Q667.08,1291.69 665.38,1287.72 Q663.68,1283.76 658.58,1286.03 Q653.48,1288.29 646.68,1288.29 Q639.88,1288.29 637.05,1284.32 Q634.21,1280.36 634.21,1276.95 Q634.21,1273.55 629.67,1270.72 Q625.14,1267.89 624.00,1262.79 Q622.87,1257.69 620.04,1253.72 Q617.2,1249.75 616.63,1244.09 Q616.07,1238.42 614.09,1233.88 Q612.1,1229.35 611.54,1224.25 Q610.97,1219.15 612.67,1214.62Z" fill="#009fe3" stroke="#009fe3" stroke-width="3" stroke-linejoin="round"/>
<g transform="translate(696.33,1175.62) rotate(-31)"><rect x="-12" y="-3.5" width="24" height="7" fill="#6f6f6e"/><rect x="-5.6" y="-3.5" width="11.2" height="7" fill="#fff"/></g>
<g transform="translate(730.33,1231.16) rotate(-31)"><rect x="-12" y="-3.5" width="24" height="7" fill="#6f6f6e"/><rect x="-5.6" y="-3.5" width="11.2" height="7" fill="#fff"/></g>
<circle cx="712.99" cy="1203.28" r="26.2" fill="#fff" stroke="#e3df00" stroke-width="3.4"/>
<ellipse cx="712.99" cy="1183.68" rx="1.5" ry="2.6" transform="rotate(0 712.99 1183.68)" fill="#e3df00"/>
<circle cx="722.79" cy="1186.31" r="1.3" fill="#d9d9de"/>
<circle cx="729.96" cy="1193.48" r="1.3" fill="#d9d9de"/>
<ellipse cx="732.59" cy="1203.28" rx="1.5" ry="2.6" transform="rotate(90 732.59 1203.28)" fill="#e3df00"/>
<circle cx="729.96" cy="1213.08" r="1.3" fill="#d9d9de"/>
<circle cx="722.79" cy="1220.25" r="1.3" fill="#d9d9de"/>
<ellipse cx="712.99" cy="1222.88" rx="1.5" ry="2.6" transform="rotate(180 712.99 1222.88)" fill="#e3df00"/>
<circle cx="703.19" cy="1220.25" r="1.3" fill="#d9d9de"/>
<circle cx="696.02" cy="1213.08" r="1.3" fill="#d9d9de"/>
<ellipse cx="693.39" cy="1203.28" rx="1.5" ry="2.6" transform="rotate(270 693.39 1203.28)" fill="#e3df00"/>
<circle cx="696.02" cy="1193.48" r="1.3" fill="#d9d9de"/>
<circle cx="703.19" cy="1186.31" r="1.3" fill="#d9d9de"/>
<path d="M717.52,1185.71 L712.39,1203.28 L722.06,1208.38" fill="none" stroke="#5a5a5a" stroke-width="2.6" stroke-linejoin="round"/>
<path d="M854.45,1194.77 L872.02,1214.04 L836.88,1258.82 L827.24,1240.12 L835.74,1208.94Z" fill="#e3df00"/><path d="M874.85,1213.48 L899.22,1204.41 L902.62,1210.08 L890.15,1229.35 L894.69,1258.82 L881.65,1258.82Z" fill="#e3df00"/>
<circle cx="879.39" cy="1182.87" r="24.4" fill="#e3df00" stroke="#434857" stroke-width="2.6"/>
<path d="M817.61,1240.68 Q826.68,1248.62 827.81,1255.98 Q828.94,1263.35 829.23,1270.15 Q829.51,1276.96 833.76,1283.19 Q838.01,1289.42 842.55,1293.39 Q847.08,1297.36 847.64,1299.91 L848.21,1302.46" fill="none" stroke="#8dd3f8" stroke-width="5.6"/>
<path d="M907.72,1260.52 Q900.36,1272.42 897.53,1279.22 Q894.69,1286.02 893.56,1294.24 L892.42,1302.46" fill="none" stroke="#8dd3f8" stroke-width="5.6"/>
<path d="M776.8,1278.09 Q790.4,1264.49 815.34,1268.45 Q824.41,1275.82 821.01,1286.02 Q813.07,1293.96 798.34,1291.12 Q787.0,1283.76 776.8,1278.09Z" fill="#009fe3"/>
<path d="M834.04,1269.02 Q840.28,1255.42 860.68,1252.02 Q872.02,1252.02 865.22,1258.82 Q856.15,1265.62 849.35,1278.09 Q838.01,1286.02 834.04,1269.02Z" fill="#009fe3"/>
<path d="M876.55,1259.95 Q887.89,1256.55 894.69,1265.62 Q898.09,1272.42 892.42,1274.69 Q884.49,1274.69 881.09,1266.75 Q878.82,1262.22 876.55,1259.95Z" fill="#009fe3"/>
<path d="M903.76,1284.89 Q909.42,1273.55 928.69,1275.82 Q937.76,1278.09 940.03,1283.76 Q930.96,1284.89 920.76,1293.39 Q906.02,1297.36 903.76,1284.89Z" fill="#009fe3"/>
<circle cx="807.97" cy="1218.01" r="22.4" fill="#009fe3"/>
<circle cx="826.57" cy="1222.76" r="7.6" fill="#009fe3"/>
<circle cx="820.23" cy="1232.79" r="7.6" fill="#009fe3"/>
<circle cx="809.20" cy="1237.17" r="7.6" fill="#009fe3"/>
<circle cx="797.70" cy="1234.23" r="7.6" fill="#009fe3"/>
<circle cx="790.13" cy="1225.10" r="7.6" fill="#009fe3"/>
<circle cx="789.37" cy="1213.26" r="7.6" fill="#009fe3"/>
<circle cx="795.71" cy="1203.23" r="7.6" fill="#009fe3"/>
<circle cx="806.74" cy="1198.85" r="7.6" fill="#009fe3"/>
<circle cx="818.24" cy="1201.79" r="7.6" fill="#009fe3"/>
<circle cx="825.81" cy="1210.92" r="7.6" fill="#009fe3"/>
<circle cx="807.97" cy="1218.01" r="10.4" fill="#e3df00" stroke="#3c4660" stroke-width="2.8"/>
<circle cx="916.79" cy="1238.42" r="22.4" fill="#009fe3"/>
<circle cx="935.39" cy="1243.17" r="7.6" fill="#009fe3"/>
<circle cx="929.05" cy="1253.20" r="7.6" fill="#009fe3"/>
<circle cx="918.02" cy="1257.58" r="7.6" fill="#009fe3"/>
<circle cx="906.52" cy="1254.64" r="7.6" fill="#009fe3"/>
<circle cx="898.95" cy="1245.51" r="7.6" fill="#009fe3"/>
<circle cx="898.19" cy="1233.67" r="7.6" fill="#009fe3"/>
<circle cx="904.53" cy="1223.64" r="7.6" fill="#009fe3"/>
<circle cx="915.56" cy="1219.26" r="7.6" fill="#009fe3"/>
<circle cx="927.06" cy="1222.20" r="7.6" fill="#009fe3"/>
<circle cx="934.63" cy="1231.33" r="7.6" fill="#009fe3"/>
<circle cx="916.79" cy="1238.42" r="10.4" fill="#e3df00" stroke="#3c4660" stroke-width="2.8"/>
<defs><pattern id="coinstripe" x="3" y="0" width="9.4" height="10" patternUnits="userSpaceOnUse"><rect width="9.4" height="10" fill="#7d878d"/><rect x="2.4" y="0" width="4.5" height="10" fill="#84cbf1"/></pattern></defs>
<path d="M988.4,1250 V1273.2 A59.4,20.4 0 0 0 1107.2,1273.2 V1250 Z" fill="none" stroke="#b9dff3" stroke-width="4.5" stroke-linejoin="round" opacity="0.55"/>
<path d="M988.4,1250 V1273.2 A59.4,20.4 0 0 0 1107.2,1273.2 V1250 Z" fill="url(#coinstripe)" stroke="#82888c" stroke-width="1.6"/>
<ellipse cx="1047.8" cy="1250" rx="59.4" ry="20.4" fill="#c6e6f7" stroke="#82888c" stroke-width="1.6"/>
<ellipse cx="1047.8" cy="1250" rx="54.9" ry="17.799999999999997" fill="#bfe2f6" stroke="#8d979d" stroke-width="1.3"/>
<path d="M999.4,1225.2 V1248.4 A59.4,20.4 0 0 0 1118.2,1248.4 V1225.2 Z" fill="none" stroke="#b9dff3" stroke-width="4.5" stroke-linejoin="round" opacity="0.55"/>
<path d="M999.4,1225.2 V1248.4 A59.4,20.4 0 0 0 1118.2,1248.4 V1225.2 Z" fill="url(#coinstripe)" stroke="#82888c" stroke-width="1.6"/>
<ellipse cx="1058.8" cy="1225.2" rx="59.4" ry="20.4" fill="#c6e6f7" stroke="#82888c" stroke-width="1.6"/>
<ellipse cx="1058.8" cy="1225.2" rx="54.9" ry="17.799999999999997" fill="#bfe2f6" stroke="#8d979d" stroke-width="1.3"/>
<path d="M988.4,1201.2 V1224.4 A59.4,20.4 0 0 0 1107.2,1224.4 V1201.2 Z" fill="none" stroke="#b9dff3" stroke-width="4.5" stroke-linejoin="round" opacity="0.55"/>
<path d="M988.4,1201.2 V1224.4 A59.4,20.4 0 0 0 1107.2,1224.4 V1201.2 Z" fill="url(#coinstripe)" stroke="#82888c" stroke-width="1.6"/>
<ellipse cx="1047.8" cy="1201.2" rx="59.4" ry="20.4" fill="#c6e6f7" stroke="#82888c" stroke-width="1.6"/>
<ellipse cx="1047.8" cy="1201.2" rx="54.9" ry="17.799999999999997" fill="#bfe2f6" stroke="#8d979d" stroke-width="1.3"/>
<text x="1045.8" y="1210.7" font-family="'Liberation Sans', sans-serif" font-weight="700" font-size="34" fill="none" stroke="#8a9398" stroke-width="1.1" text-anchor="middle" transform="translate(1045.8 1201.2) scale(1.95 1.02) translate(-1045.8 -1201.2)">€</text>
<circle cx="1220.1" cy="1232.7" r="65.1" fill="#fff" stroke="#e3df00" stroke-width="9.2"/>
<line x1="1220.10" y1="1191.20" x2="1220.10" y2="1181.20" stroke="#e3df00" stroke-width="6.6" stroke-linecap="round"/>
<line x1="1243.85" y1="1191.56" x2="1246.35" y2="1187.23" stroke="#c4c4c4" stroke-width="5.2" stroke-linecap="round"/>
<line x1="1261.24" y1="1208.95" x2="1265.57" y2="1206.45" stroke="#c4c4c4" stroke-width="5.2" stroke-linecap="round"/>
<line x1="1261.60" y1="1232.70" x2="1271.60" y2="1232.70" stroke="#e3df00" stroke-width="6.6" stroke-linecap="round"/>
<line x1="1261.24" y1="1256.45" x2="1265.57" y2="1258.95" stroke="#c4c4c4" stroke-width="5.2" stroke-linecap="round"/>
<line x1="1243.85" y1="1273.84" x2="1246.35" y2="1278.17" stroke="#c4c4c4" stroke-width="5.2" stroke-linecap="round"/>
<line x1="1220.10" y1="1274.20" x2="1220.10" y2="1284.20" stroke="#e3df00" stroke-width="6.6" stroke-linecap="round"/>
<line x1="1196.35" y1="1273.84" x2="1193.85" y2="1278.17" stroke="#c4c4c4" stroke-width="5.2" stroke-linecap="round"/>
<line x1="1178.96" y1="1256.45" x2="1174.63" y2="1258.95" stroke="#c4c4c4" stroke-width="5.2" stroke-linecap="round"/>
<line x1="1178.60" y1="1232.70" x2="1168.60" y2="1232.70" stroke="#e3df00" stroke-width="6.6" stroke-linecap="round"/>
<line x1="1178.96" y1="1208.95" x2="1174.63" y2="1206.45" stroke="#c4c4c4" stroke-width="5.2" stroke-linecap="round"/>
<line x1="1196.35" y1="1191.56" x2="1193.85" y2="1187.23" stroke="#c4c4c4" stroke-width="5.2" stroke-linecap="round"/>
<path d="M1211,1186.5 L1219.6,1233.2 L1192.8,1235" fill="none" stroke="#5b5b5b" stroke-width="5" stroke-linecap="round" stroke-linejoin="round"/>
<path d="M1327.46,1218.58 Q1328.14,1213.48 1329.95,1210.08 Q1331.76,1206.68 1333.01,1206.96 Q1334.26,1207.24 1336.30,1202.71 Q1338.34,1198.18 1342.88,1194.38 Q1347.41,1190.58 1353.08,1188.32 Q1358.74,1186.05 1363.56,1184.46 Q1368.38,1182.87 1369.80,1183.72 Q1371.21,1184.57 1374.61,1182.13 Q1378.01,1179.7 1383.68,1178.79 Q1389.35,1177.88 1397.85,1177.43 Q1406.35,1176.98 1412.59,1177.77 Q1418.82,1178.56 1421.09,1179.69 Q1423.35,1180.83 1424.48,1181.40 Q1425.62,1181.97 1429.30,1182.88 Q1432.99,1183.78 1437.53,1186.16 Q1442.06,1188.54 1446.31,1191.82 Q1450.56,1195.11 1451.80,1196.36 Q1453.05,1197.61 1457.19,1201.01 Q1461.33,1204.41 1465.12,1210.08 Q1468.92,1215.74 1471.18,1221.41 Q1473.45,1227.08 1474.02,1232.75 Q1474.59,1238.42 1474.25,1241.59 Q1473.91,1244.76 1473.00,1245.55 Q1472.09,1246.35 1470.51,1249.30 Q1468.92,1252.24 1467.22,1253.60 Q1465.52,1254.96 1464.72,1255.76 Q1463.93,1256.55 1464.50,1260.52 Q1465.07,1264.49 1461.21,1268.91 Q1457.36,1273.33 1451.69,1276.39 Q1446.02,1279.45 1440.36,1280.81 Q1434.69,1282.17 1432.54,1282.97 Q1430.38,1283.76 1431.52,1287.50 Q1432.65,1291.24 1430.61,1293.39 Q1428.57,1295.55 1425.39,1292.94 Q1422.22,1290.33 1417.12,1286.03 Q1412.02,1281.72 1406.35,1278.88 Q1400.68,1276.05 1395.01,1274.01 Q1389.35,1271.97 1383.68,1270.61 Q1378.01,1269.25 1372.35,1267.55 Q1366.68,1265.85 1363.05,1263.58 Q1359.42,1261.31 1358.51,1260.29 Q1357.61,1259.27 1352.51,1258.03 Q1347.41,1256.78 1342.88,1253.38 Q1338.34,1249.98 1334.94,1246.01 Q1331.54,1242.04 1329.55,1237.51 Q1327.57,1232.97 1327.17,1228.33 Q1326.78,1223.68 1327.46,1218.58Z" fill="#82d0f5" stroke="#77787a" stroke-width="2.6" stroke-linejoin="round"/>
<path d="M1371.21,1184.01 Q1368.94,1190.81 1371.21,1196.47" fill="none" stroke="#77787a" stroke-width="2.2" stroke-linecap="round"/>
<path d="M1392.75,1190.81 Q1389.35,1199.88 1383.68,1203.28 Q1378.01,1206.68 1372.35,1206.11 Q1366.68,1205.54 1357.61,1213.48" fill="none" stroke="#77787a" stroke-width="2.2" stroke-linecap="round"/>
<path d="M1378.01,1206.68 Q1373.48,1218.01 1370.08,1236.15" fill="none" stroke="#77787a" stroke-width="2.2" stroke-linecap="round"/>
<path d="M1424.49,1181.74 Q1426.75,1193.07 1421.09,1202.14" fill="none" stroke="#77787a" stroke-width="2.2" stroke-linecap="round"/>
<path d="M1452.82,1197.61 Q1441.49,1203.28 1439.22,1208.38 Q1436.96,1213.48 1435.82,1222.55" fill="none" stroke="#77787a" stroke-width="2.2" stroke-linecap="round"/>
<path d="M1452.82,1222.55 Q1458.49,1227.08 1459.06,1231.62 Q1459.63,1236.15 1453.96,1237.28" fill="none" stroke="#77787a" stroke-width="2.2" stroke-linecap="round"/>
<path d="M1459.63,1236.15 Q1468.69,1238.42 1473.23,1245.22" fill="none" stroke="#77787a" stroke-width="2.2" stroke-linecap="round"/>
<path d="M1439.22,1236.15 Q1439.22,1245.22 1442.62,1248.62 Q1446.02,1252.02 1464.16,1256.55" fill="none" stroke="#77787a" stroke-width="2.2" stroke-linecap="round"/>
<path d="M1446.02,1252.02 Q1432.42,1253.15 1422.22,1255.99 Q1412.02,1258.82 1405.22,1261.65 Q1398.42,1264.49 1389.35,1257.69" fill="none" stroke="#77787a" stroke-width="2.2" stroke-linecap="round"/>
<path d="M1398.42,1264.49 L1393.88,1273.55" fill="none" stroke="#77787a" stroke-width="2.2" stroke-linecap="round"/>
<path d="M1412.02,1258.82 Q1416.55,1272.42 1423.35,1281.49" fill="none" stroke="#77787a" stroke-width="2.2" stroke-linecap="round"/>
<path d="M1332.67,1208.94 Q1339.47,1215.74 1344.01,1220.28 Q1348.54,1224.81 1358.74,1229.35" fill="none" stroke="#77787a" stroke-width="2.2" stroke-linecap="round"/>
<path d="M1331.54,1233.88 Q1339.47,1235.01 1344.01,1240.68" fill="none" stroke="#77787a" stroke-width="2.2" stroke-linecap="round"/>
<path d="M1382.55,1233.88 Q1368.94,1240.68 1364.97,1246.35 Q1361.01,1252.02 1358.74,1259.95" fill="none" stroke="#77787a" stroke-width="2.2" stroke-linecap="round"/>
<circle cx="1408.05" cy="1227.08" r="24.6" fill="#fff" stroke="#77787a" stroke-width="2.2"/><path d="M1393.85,1222.28 H1403.25 V1212.8799999999999 H1412.85 V1222.28 H1422.25 V1231.8799999999999 H1412.85 V1241.28 H1403.25 V1231.8799999999999 H1393.85Z" fill="#6b6b6b"/>
<path d="M1593.15,1169.27 Q1603.35,1171.54 1611.86,1178.34 Q1620.36,1185.14 1625.17,1194.78 Q1629.99,1204.41 1630.95,1213.48 Q1631.92,1222.55 1629.26,1231.62 Q1626.59,1240.68 1622.05,1247.48 Q1617.52,1254.28 1616.39,1261.65 Q1615.26,1269.02 1616.96,1274.69 Q1618.66,1280.36 1620.76,1285.01 Q1622.85,1289.65 1622.85,1289.65 Q1622.85,1289.65 1622.17,1292.26 Q1621.49,1294.87 1621.49,1294.87 Q1621.49,1294.87 1620.36,1295.21 Q1619.22,1295.55 1595.41,1295.89 Q1571.61,1296.23 1571.61,1296.23 Q1571.61,1296.23 1568.78,1293.96 Q1565.95,1291.69 1561.98,1285.18 Q1558.01,1278.66 1558.01,1278.66 Q1558.01,1278.66 1551.21,1280.76 Q1544.41,1282.85 1539.31,1282.85 Q1534.21,1282.85 1534.21,1282.85 Q1534.21,1282.85 1531.94,1277.63 Q1529.67,1272.42 1528.54,1269.02 Q1527.41,1265.62 1527.63,1261.65 Q1527.86,1257.69 1525.93,1254.86 Q1524.01,1252.02 1524.01,1252.02 Q1524.01,1252.02 1524.69,1249.75 Q1525.37,1247.48 1522.14,1244.76 Q1518.91,1242.04 1518.91,1242.04 Q1518.91,1242.04 1523.72,1234.56 Q1528.54,1227.08 1529.44,1224.82 Q1530.35,1222.55 1528.42,1218.87 Q1526.5,1215.18 1526.50,1215.18 Q1526.5,1215.18 1528.65,1206.96 Q1530.81,1198.74 1535.91,1190.80 Q1541.01,1182.87 1549.51,1177.20 Q1558.01,1171.54 1570.48,1169.27 Q1582.95,1167 1593.15,1169.27Z" fill="#e3df00" stroke="#fff" stroke-width="2.4" stroke-linejoin="round"/>
<path transform="translate(1563.68,1199.88) rotate(-35) scale(1.0)" d="M0,-7.5 C2,-4 5,-1 5,2.5 A5,5 0 0 1 -5,2.5 C-5,-1 -2,-4 0,-7.5Z" fill="#fff" stroke="#77787a" stroke-width="1.40"/>
<path transform="translate(1579.55,1212.12) rotate(-40) scale(0.68)" d="M0,-7.5 C2,-4 5,-1 5,2.5 A5,5 0 0 1 -5,2.5 C-5,-1 -2,-4 0,-7.5Z" fill="#fff" stroke="#77787a" stroke-width="2.06"/>
<path transform="translate(1567.65,1222.55) rotate(-20) scale(0.68)" d="M0,-7.5 C2,-4 5,-1 5,2.5 A5,5 0 0 1 -5,2.5 C-5,-1 -2,-4 0,-7.5Z" fill="#fff" stroke="#77787a" stroke-width="2.06"/>
<path d="M1757.28,1202.14 C1749.35,1187.41 1738.01,1176.64 1723.28,1176.64 C1702.87,1176.64 1687.57,1195.34 1687.57,1216.88 C1687.57,1240.68 1715.34,1263.35 1757.85,1301.89 C1800.36,1263.35 1828.69,1240.68 1828.69,1216.88 C1828.69,1195.34 1813.96,1176.64 1793.55,1176.64 C1777.69,1176.64 1765.22,1187.41 1757.28,1202.14Z" fill="#009fe3" stroke="#fff" stroke-width="3" stroke-linejoin="miter"/>
<circle cx="1758.42" cy="1238.98" r="26.4" fill="#fff" stroke="#77787a" stroke-width="2.2"/><path d="M1744.22,1234.18 H1753.6200000000001 V1224.78 H1763.22 V1234.18 H1772.6200000000001 V1243.78 H1763.22 V1253.18 H1753.6200000000001 V1243.78 H1744.22Z" fill="#6b6b6b"/>
<path d="M1862,1293.07 L1904.86,1211.78 L1921.18,1236.16 L1955.19,1179.25 L2015.05,1293.07Z" fill="#fff" stroke="#fff" stroke-width="6.4" stroke-linejoin="round"/>
<path d="M1865.41,1291.14 L1881.28,1259.4 L1891.48,1263.37 L1900.55,1256.56 L1925.49,1276.97 L1935.13,1271.87 L1944.76,1291.14Z" fill="#c6c6c6"/><path d="M1924.36,1237.86 L1928.32,1233.89 L1935.69,1238.99 L1947.6,1227.66 L1970.84,1251.46 L1984.44,1239.56 L2011.65,1291.14 L1950.43,1291.14Z" fill="#c6c6c6"/>
<g font-family="'Liberation Sans', sans-serif" font-weight="700" font-size="26.5" fill="#fff" stroke="#fff" stroke-width="0.5" stroke-linejoin="round">
<text><tspan x="248.65" y="1346.8" textLength="125.7" lengthAdjust="spacingAndGlyphs">Suivre les</tspan> <tspan x="269.5" y="1375.3" textLength="84" lengthAdjust="spacingAndGlyphs">autres</tspan> <tspan x="253.65" y="1403.8" textLength="115.7" lengthAdjust="spacingAndGlyphs">cyclistes</tspan></text>
<text><tspan x="475.15" y="1346.8" textLength="30.7" lengthAdjust="spacingAndGlyphs">La</tspan> <tspan x="411" y="1375.3" textLength="159" lengthAdjust="spacingAndGlyphs">technologie</tspan> <tspan x="436.85" y="1403.8" textLength="107.3" lengthAdjust="spacingAndGlyphs">du futur</tspan></text>
<text><tspan x="569.85" y="1346.8" textLength="182.3" lengthAdjust="spacingAndGlyphs">Rend le temps</tspan> <tspan x="594" y="1375.3" textLength="134" lengthAdjust="spacingAndGlyphs">de voyage</tspan> <tspan x="598.15" y="1403.8" textLength="125.7" lengthAdjust="spacingAndGlyphs">prévisible</tspan></text>
<text><tspan x="815" y="1346.8" textLength="94" lengthAdjust="spacingAndGlyphs">Impact</tspan> <tspan x="752.5" y="1375.3" textLength="219" lengthAdjust="spacingAndGlyphs">environnemental</tspan></text>
<text><tspan x="977.5" y="1346.8" textLength="154" lengthAdjust="spacingAndGlyphs">Économiser</tspan> <tspan x="985" y="1375.3" textLength="139" lengthAdjust="spacingAndGlyphs">de l'argent</tspan></text>
<text><tspan x="1151.85" y="1346.8" textLength="142.3" lengthAdjust="spacingAndGlyphs">Gagnez du</tspan> <tspan x="1158.5" y="1375.3" textLength="129" lengthAdjust="spacingAndGlyphs">temps sur</tspan> <tspan x="1148.5" y="1403.8" textLength="149" lengthAdjust="spacingAndGlyphs">mon temps</tspan> <tspan x="1166.85" y="1432.3" textLength="112.3" lengthAdjust="spacingAndGlyphs">de trajet</tspan></text>
<text><tspan x="1359.5" y="1346.8" textLength="75" lengthAdjust="spacingAndGlyphs">Santé</tspan> <tspan x="1343.35" y="1375.3" textLength="107.3" lengthAdjust="spacingAndGlyphs">mentale</tspan></text>
<text><tspan x="1536.35" y="1346.8" textLength="82.3" lengthAdjust="spacingAndGlyphs">Moins</tspan> <tspan x="1528" y="1375.3" textLength="99" lengthAdjust="spacingAndGlyphs">d'effort</tspan></text>
<text><tspan x="1718.2" y="1346.8" textLength="77" lengthAdjust="spacingAndGlyphs">Santé</tspan> <tspan x="1696.35" y="1375.3" textLength="120.7" lengthAdjust="spacingAndGlyphs">physique</tspan></text>
<text><tspan x="1839.65" y="1346.8" textLength="185.7" lengthAdjust="spacingAndGlyphs">Augmenter la</tspan> <tspan x="1864.65" y="1375.3" textLength="135.7" lengthAdjust="spacingAndGlyphs">distance /</tspan> <tspan x="1847.15" y="1403.8" textLength="170.7" lengthAdjust="spacingAndGlyphs">grimper une</tspan> <tspan x="1879.65" y="1432.3" textLength="105.7" lengthAdjust="spacingAndGlyphs">montée</tspan></text>
</g>
<g font-family="'Liberation Sans', sans-serif" font-size="43.5" fill="#fff">
<text y="104.5"><tspan x="125.50" textLength="161.44" lengthAdjust="spacingAndGlyphs">Raisons</tspan> <tspan x="297.19" textLength="196.02" lengthAdjust="spacingAndGlyphs">d'acheter</tspan> <tspan x="504.86" textLength="57.18" lengthAdjust="spacingAndGlyphs">un</tspan> <tspan x="572.99" textLength="92.95" lengthAdjust="spacingAndGlyphs">vélo</tspan> <tspan x="674.06" textLength="214.10" lengthAdjust="spacingAndGlyphs">électrique</tspan></text>
</g>
<g font-family="'Liberation Sans', sans-serif" font-weight="700" font-size="46.5" fill="#00a3e8" stroke="#00a3e8" stroke-width="1.6" stroke-linejoin="round">
<text y="190"><tspan x="126.10" textLength="251.50" lengthAdjust="spacingAndGlyphs">Augmenter</tspan> <tspan x="393.61" textLength="35.96" lengthAdjust="spacingAndGlyphs">la</tspan> <tspan x="443.48" textLength="193.33" lengthAdjust="spacingAndGlyphs">distance</tspan> <tspan x="648.78" textLength="235.84" lengthAdjust="spacingAndGlyphs">parcourue</tspan> <tspan x="899.64" textLength="38.43" lengthAdjust="spacingAndGlyphs">et</tspan> <tspan x="950.39" textLength="177.41" lengthAdjust="spacingAndGlyphs">grimper</tspan> <tspan x="1142.33" textLength="80.92" lengthAdjust="spacingAndGlyphs">des</tspan> <tspan x="1234.66" textLength="154.97" lengthAdjust="spacingAndGlyphs">pentes</tspan></text>
<text y="247.5"><tspan x="125.95" textLength="139.19" lengthAdjust="spacingAndGlyphs">raides</tspan> <tspan x="275.45" textLength="99.50" lengthAdjust="spacingAndGlyphs">sans</tspan> <tspan x="384.39" textLength="154.43" lengthAdjust="spacingAndGlyphs">efforts</tspan> <tspan x="550.20" textLength="95.61" lengthAdjust="spacingAndGlyphs">sont</tspan> <tspan x="657.98" textLength="64.61" lengthAdjust="spacingAndGlyphs">les</tspan> <tspan x="734.68" textLength="252.04" lengthAdjust="spacingAndGlyphs">principales</tspan> <tspan x="997.26" textLength="164.67" lengthAdjust="spacingAndGlyphs">raisons</tspan> <tspan x="1173.50" textLength="213.50" lengthAdjust="spacingAndGlyphs">d'acheter</tspan></text>
<text y="305"><tspan x="125.92" textLength="58.46" lengthAdjust="spacingAndGlyphs">un</tspan> <tspan x="196.48" textLength="95.92" lengthAdjust="spacingAndGlyphs">vélo</tspan> <tspan x="304.38" textLength="245.75" lengthAdjust="spacingAndGlyphs">électrique,</tspan> <tspan x="560.57" textLength="58.08" lengthAdjust="spacingAndGlyphs">un</tspan> <tspan x="629.20" textLength="70.42" lengthAdjust="spacingAndGlyphs">sur</tspan> <tspan x="713.57" textLength="104.26" lengthAdjust="spacingAndGlyphs">trois</tspan> <tspan x="828.49" textLength="244.61" lengthAdjust="spacingAndGlyphs">souhaitant</tspan> <tspan x="1086.11" textLength="99.00" lengthAdjust="spacingAndGlyphs">aller</tspan> <tspan x="1197.74" textLength="96.82" lengthAdjust="spacingAndGlyphs">plus</tspan> <tspan x="1303.37" textLength="103.66" lengthAdjust="spacingAndGlyphs">loin.</tspan></text>
</g>
<g font-family="'Liberation Sans', sans-serif" font-weight="700" font-size="16.8" fill="#fff">
<text y="1475.2"><tspan x="143.32" textLength="32.48" lengthAdjust="spacingAndGlyphs">Q3:</tspan> <tspan x="176.46" textLength="80.08" lengthAdjust="spacingAndGlyphs">Eléments</tspan> <tspan x="258.47" textLength="114.06" lengthAdjust="spacingAndGlyphs">déclencheurs</tspan> <tspan x="373.58" textLength="40.94" lengthAdjust="spacingAndGlyphs">pour</tspan> <tspan x="417.47" textLength="61.03" lengthAdjust="spacingAndGlyphs">l'achat</tspan> <tspan x="481.41" textLength="39.18" lengthAdjust="spacingAndGlyphs">d'un</tspan> <tspan x="522.61" textLength="35.96" lengthAdjust="spacingAndGlyphs">vélo</tspan> <tspan x="560.46" textLength="89.07" lengthAdjust="spacingAndGlyphs">électrique</tspan> <tspan x="651.93" textLength="7.14" lengthAdjust="spacingAndGlyphs">-</tspan> <tspan x="660.45" textLength="70.09" lengthAdjust="spacingAndGlyphs">laquelle</tspan> <tspan x="734.36" textLength="29.20" lengthAdjust="spacingAndGlyphs">des</tspan> <tspan x="765.45" textLength="63.10" lengthAdjust="spacingAndGlyphs">raisons</tspan> <tspan x="830.46" textLength="81.08" lengthAdjust="spacingAndGlyphs">suivantes</tspan> <tspan x="914.49" textLength="42.05" lengthAdjust="spacingAndGlyphs">vous</tspan> <tspan x="958.48" textLength="84.02" lengthAdjust="spacingAndGlyphs">donnerait</tspan> <tspan x="1046.43" textLength="47.14" lengthAdjust="spacingAndGlyphs">envie</tspan> <tspan x="1096.48" textLength="79.03" lengthAdjust="spacingAndGlyphs">d'acheter</tspan> <tspan x="1179.34" textLength="24.32" lengthAdjust="spacingAndGlyphs">un</tspan> <tspan x="1206.48" textLength="35.06" lengthAdjust="spacingAndGlyphs">vélo</tspan> <tspan x="1244.48" textLength="87.13" lengthAdjust="spacingAndGlyphs">électrique</tspan></text>
</g>
<text y="111.4" font-family="'Liberation Sans', sans-serif" font-weight="700" font-size="45.3" fill="#fff" stroke="#fff" stroke-width="3" stroke-linejoin="miter"><tspan x="1854.31" textLength="34.18" lengthAdjust="spacingAndGlyphs">S</tspan><tspan x="1889.97" textLength="38.07" lengthAdjust="spacingAndGlyphs">H</tspan><tspan x="1926.85" textLength="19.29" lengthAdjust="spacingAndGlyphs">I</tspan><tspan x="1944.75" textLength="54.10" lengthAdjust="spacingAndGlyphs">M</tspan><tspan x="1998.34" textLength="33.39" lengthAdjust="spacingAndGlyphs">A</tspan><tspan x="2034.75" textLength="36.11" lengthAdjust="spacingAndGlyphs">N</tspan><tspan x="2072.75" textLength="33.24" lengthAdjust="spacingAndGlyphs">O</tspan></text>
</svg></body></html>
